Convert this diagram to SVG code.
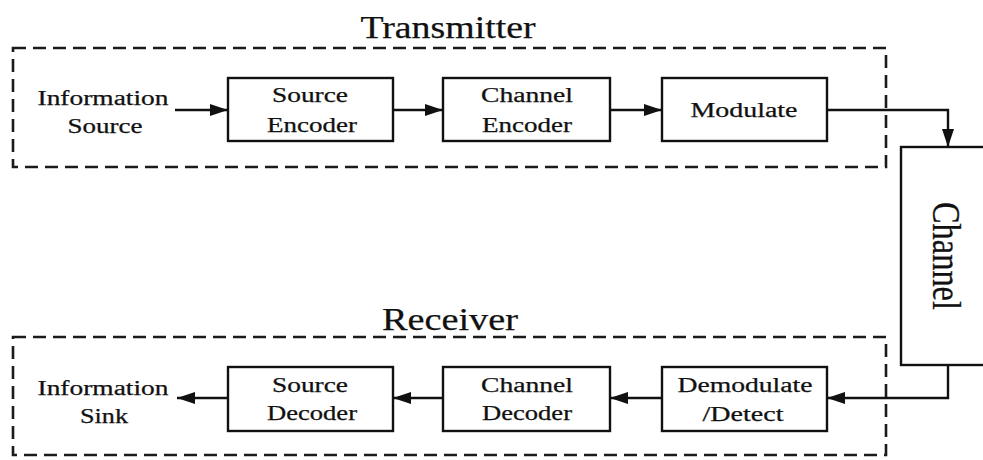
<svg xmlns="http://www.w3.org/2000/svg" width="983" height="460" viewBox="0 0 983 460">
<defs>
<marker id="ah" viewBox="0 0 18 12" refX="18" refY="6" markerWidth="18" markerHeight="12" markerUnits="userSpaceOnUse" orient="auto">
<path d="M0,0 L18,6 L0,12 Z" fill="#111"/>
</marker>
<style>
.box{fill:#fff;stroke:#111;stroke-width:2.4}
.dash{fill:none;stroke:#1a1a1a;stroke-width:2.6;stroke-dasharray:13 7}
.t{font-family:'Liberation Serif','Times New Roman',serif;font-size:20px;fill:#111;stroke:#111;stroke-width:0.25;text-anchor:middle}
.title{font-family:'Liberation Serif','Times New Roman',serif;font-size:31px;fill:#111;stroke:#111;stroke-width:0.25;text-anchor:middle}
.con{fill:none;stroke:#111;stroke-width:2.4;marker-end:url(#ah)}
</style>
</defs>
<rect width="983" height="460" fill="#fff"/>

<g id="transmitter">
<rect class="dash" x="13" y="48" width="873" height="119"/>
<text class="title" x="448" y="38" textLength="175" lengthAdjust="spacingAndGlyphs">Transmitter</text>
</g>
<g id="receiver">
<rect class="dash" x="13" y="337" width="873" height="118"/>
<text class="title" x="450" y="330" textLength="136" lengthAdjust="spacingAndGlyphs">Receiver</text>
</g>

<g id="info-source">
<text class="t" x="103" y="105" textLength="131" lengthAdjust="spacingAndGlyphs">Information</text>
<text class="t" x="105" y="133" textLength="75" lengthAdjust="spacingAndGlyphs">Source</text>
</g>
<g id="source-encoder">
<rect class="box" x="228" y="78" width="165" height="63"/>
<text class="t" x="310" y="102" textLength="76" lengthAdjust="spacingAndGlyphs">Source</text>
<text class="t" x="312" y="132" textLength="90" lengthAdjust="spacingAndGlyphs">Encoder</text>
</g>
<g id="channel-encoder">
<rect class="box" x="443" y="78" width="167" height="63"/>
<text class="t" x="527" y="102" textLength="92" lengthAdjust="spacingAndGlyphs">Channel</text>
<text class="t" x="527" y="132" textLength="90" lengthAdjust="spacingAndGlyphs">Encoder</text>
</g>
<g id="modulate">
<rect class="box" x="662" y="78" width="165" height="63"/>
<text class="t" x="744" y="117" textLength="107" lengthAdjust="spacingAndGlyphs">Modulate</text>
</g>
<g id="channel">
<rect class="box" x="901" y="147" width="90" height="218"/>
<text class="t" style="font-size:41px;stroke-width:0.3" transform="translate(933,256) rotate(90)" x="0" y="0" textLength="108" lengthAdjust="spacingAndGlyphs">Channel</text>
</g>
<g id="demodulate">
<rect class="box" x="662" y="367" width="165" height="64"/>
<text class="t" x="745" y="392" textLength="135" lengthAdjust="spacingAndGlyphs">Demodulate</text>
<text class="t" x="743" y="421" textLength="81" lengthAdjust="spacingAndGlyphs">/Detect</text>
</g>
<g id="channel-decoder">
<rect class="box" x="443" y="367" width="167" height="64"/>
<text class="t" x="527" y="392" textLength="92" lengthAdjust="spacingAndGlyphs">Channel</text>
<text class="t" x="527" y="420" textLength="90" lengthAdjust="spacingAndGlyphs">Decoder</text>
</g>
<g id="source-decoder">
<rect class="box" x="228" y="367" width="165" height="64"/>
<text class="t" x="310" y="392" textLength="76" lengthAdjust="spacingAndGlyphs">Source</text>
<text class="t" x="312" y="420" textLength="90" lengthAdjust="spacingAndGlyphs">Decoder</text>
</g>
<g id="info-sink">
<text class="t" x="103" y="395" textLength="131" lengthAdjust="spacingAndGlyphs">Information</text>
<text class="t" x="104" y="423" textLength="48" lengthAdjust="spacingAndGlyphs">Sink</text>
</g>

<g id="connectors">
<path class="con" d="M175,110 H228"/>
<path class="con" d="M393,110 H443"/>
<path class="con" d="M610,110 H662"/>
<path class="con" d="M827,110 H948 V147"/>
<path class="con" d="M948,365 V398 H827"/>
<path class="con" d="M662,398 H610"/>
<path class="con" d="M443,398 H393"/>
<path class="con" d="M228,398 H177"/>
</g>
</svg>
